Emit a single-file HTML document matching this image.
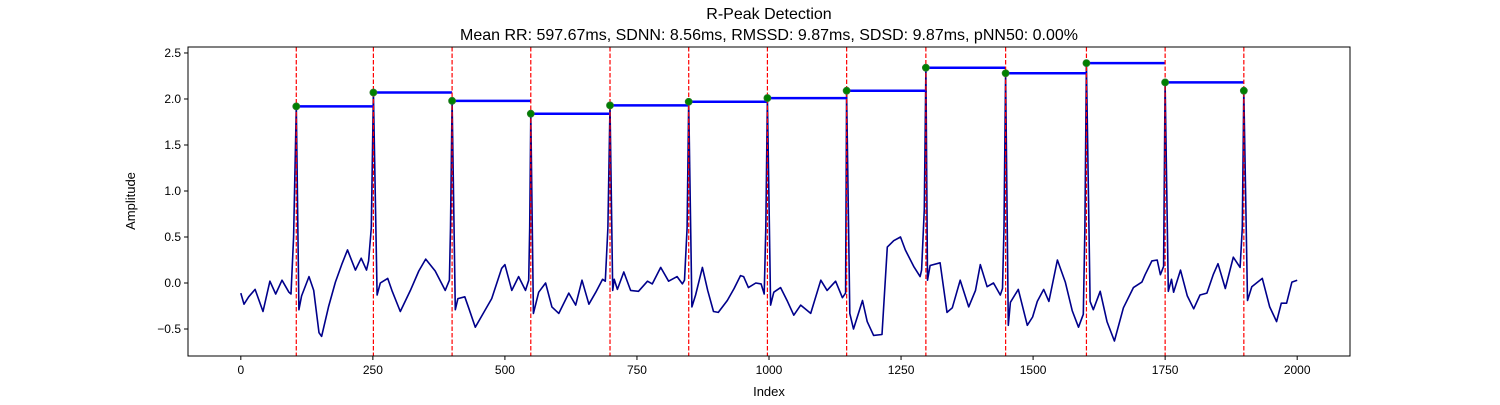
<!DOCTYPE html>
<html><head><meta charset="utf-8"><style>
body{margin:0;background:#fff;}
svg text{font-family:"Liberation Sans","DejaVu Sans",sans-serif;}
</style></head><body>
<svg id="chart" width="1500" height="400" xmlns="http://www.w3.org/2000/svg">
<text x="769" y="19" font-size="16" text-anchor="middle">R-Peak Detection</text>
<text x="769" y="40" font-size="16" text-anchor="middle">Mean RR: 597.67ms, SDNN: 8.56ms, RMSSD: 9.87ms, SDSD: 9.87ms, pNN50: 0.00%</text>
<g id="plot"></g>
<rect x="188" y="47" width="1162" height="309" fill="none" stroke="#000" stroke-width="1"/>
<text x="769" y="396" font-size="13" text-anchor="middle">Index</text>
<text x="135" y="201" font-size="13" text-anchor="middle" transform="rotate(-90 135 201)">Amplitude</text>
</svg>
<script>
const signalIdx=[0,6,15,27,42,55,66,78,91,95,100,105,110,115,129,138,148,153,166,179,191,202,217,228,238,242,247,251,258,264,278,286,302,321,337,350,368,387,395,397,400,406,411,424,432,444,460,475,494,500,513,526,539,545,547,549,554,564,577,589,602,621,634,646,659,672,685,690,695,699,704,707,713,725,738,753,770,779,795,810,826,836,840,845,848,854,861,874,884,895,904,921,934,946,952,961,975,985,991,994,997,1003,1009,1022,1035,1047,1060,1079,1098,1110,1126,1139,1145,1147,1153,1160,1177,1186,1198,1214,1224,1236,1249,1258,1274,1286,1289,1294,1297,1300,1305,1324,1337,1347,1362,1378,1391,1400,1413,1425,1438,1442,1445,1448,1453,1457,1472,1489,1499,1508,1520,1530,1546,1561,1574,1586,1595,1598,1601,1608,1614,1627,1640,1654,1671,1690,1706,1712,1725,1735,1741,1747,1750,1756,1762,1766,1779,1792,1804,1816,1829,1841,1850,1864,1879,1892,1896,1899,1906,1914,1934,1948,1961,1970,1980,1990,2000];
const signalVal=[-0.11,-0.23,-0.15,-0.07,-0.31,0.02,-0.12,0.03,-0.10,-0.12,0.5,1.92,-0.29,-0.14,0.07,-0.08,-0.54,-0.58,-0.26,0.01,0.20,0.36,0.14,0.27,0.14,0.24,0.6,2.07,-0.13,0.0,0.05,-0.08,-0.31,-0.08,0.13,0.26,0.13,-0.08,0.03,0.6,1.98,-0.29,-0.17,-0.15,-0.28,-0.48,-0.32,-0.17,0.16,0.20,-0.08,0.07,-0.08,0.03,0.6,1.84,-0.33,-0.10,0.0,-0.26,-0.33,-0.11,-0.24,0.03,-0.23,-0.10,0.04,0.02,0.6,1.93,-0.08,0.04,-0.07,0.12,-0.08,-0.09,0.02,-0.01,0.17,0.02,0.07,-0.01,0.03,0.6,1.97,-0.26,-0.13,0.17,-0.08,-0.31,-0.32,-0.19,-0.06,0.08,0.07,-0.05,0.0,-0.01,-0.12,0.6,2.01,-0.24,-0.10,-0.05,-0.20,-0.35,-0.24,-0.33,0.03,-0.08,0.02,-0.16,-0.11,2.09,-0.33,-0.50,-0.19,-0.42,-0.57,-0.56,0.39,0.46,0.50,0.36,0.18,0.07,0.14,0.8,2.34,0.03,0.19,0.22,-0.32,-0.27,0.03,-0.26,-0.08,0.20,-0.04,0.0,-0.13,-0.06,0.6,2.28,-0.46,-0.21,-0.07,-0.46,-0.37,-0.20,-0.07,-0.20,0.25,0.01,-0.30,-0.48,-0.34,0.6,2.39,-0.20,-0.29,-0.09,-0.42,-0.63,-0.27,-0.05,0.01,0.09,0.24,0.25,0.09,0.18,2.18,-0.09,0.04,-0.10,0.14,-0.14,-0.28,-0.13,-0.11,0.09,0.21,-0.06,0.28,0.17,0.6,2.09,-0.19,-0.04,0.05,-0.26,-0.42,-0.22,-0.22,0.01,0.03];
const peakIdx=[105,251,400,549,699,848,997,1147,1297,1448,1601,1750,1899];
const peakVal=[1.92,2.07,1.98,1.84,1.93,1.97,2.01,2.09,2.34,2.28,2.39,2.18,2.09];
const xTicks=[0,250,500,750,1000,1250,1500,1750,2000];
const yTicks=[-0.5,0.0,0.5,1.0,1.5,2.0,2.5];
const yTickLabels=["−0.5","0.0","0.5","1.0","1.5","2.0","2.5"];

const L=188,R=1350,T=47,B=356;
const xMin=-100,xMax=2100,yMin=-0.7935,yMax=2.565;
function sx(v){return L+(v-xMin)/(xMax-xMin)*(R-L);}
function sy(v){return B-(v-yMin)/(yMax-yMin)*(B-T);}
const NS="http://www.w3.org/2000/svg";
const svg=document.getElementById('chart');
const g=document.getElementById('plot');
function mk(tag,attrs,parent){const e=document.createElementNS(NS,tag);for(const k in attrs)e.setAttribute(k,attrs[k]);(parent||g).appendChild(e);return e;}

// ticks
xTicks.forEach(t=>{
  const l=mk('line',{x1:sx(t),x2:sx(t),y1:B,y2:B+4,stroke:'#000'},svg);
  
  
  const tx=mk('text',{x:sx(t),y:B+18,'font-size':12,'text-anchor':'middle'},svg);
  tx.textContent=String(t);
  
  
});
yTicks.forEach((t,i)=>{
  const l=mk('line',{x1:L-4,x2:L,y1:sy(t),y2:sy(t),stroke:'#000'},svg);
  
  
  const tx=mk('text',{x:L-7,y:sy(t)+4,'font-size':12,'text-anchor':'end'},svg);
  tx.textContent=yTickLabels[i];
  
  
});

// signal
let d='';
signalIdx.forEach((v,i)=>{d+=(i?'L':'M')+sx(v).toFixed(1)+' '+sy(signalVal[i]).toFixed(1);});
const sig=mk('path',{d:d,fill:'none',stroke:'#00008b','stroke-width':1.6,'stroke-linejoin':'round'});



// RR interval lines
for(let i=0;i<peakIdx.length-1;i++){
  const l=mk('line',{x1:sx(peakIdx[i]),x2:sx(peakIdx[i+1]),y1:sy(peakVal[i]),y2:sy(peakVal[i]),stroke:'#0000ff','stroke-width':2.5});
  
  
}
// peak vertical lines
peakIdx.forEach(p=>{
  const l=mk('line',{x1:sx(p),x2:sx(p),y1:T,y2:B,stroke:'#ff0000','stroke-width':1.2,'stroke-dasharray':'4.5,2'});
  
  
});
// peak dots
peakIdx.forEach((p,i)=>{
  const c=mk('circle',{cx:sx(p),cy:sy(peakVal[i]),r:3.5,fill:'#008000',stroke:'#2a7a2a','stroke-width':0.8});
  
  
});
</script>
</body></html>
